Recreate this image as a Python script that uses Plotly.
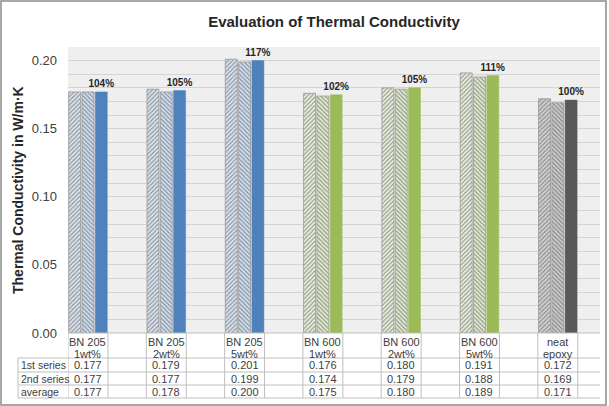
import plotly.graph_objects as go

# ---- data ----
cat_line1 = ["BN 205", "BN 205", "BN 205", "BN 600", "BN 600", "BN 600", "neat"]
cat_line2 = ["1wt%", "2wt%", "5wt%", "1wt%", "2wt%", "5wt%", "epoxy"]
series1 = [0.177, 0.179, 0.201, 0.176, 0.180, 0.191, 0.172]
series2 = [0.177, 0.177, 0.199, 0.174, 0.179, 0.188, 0.169]
average = [0.177, 0.178, 0.200, 0.175, 0.180, 0.189, 0.171]
percent = ["104%", "105%", "117%", "102%", "105%", "111%", "100%"]
row_names = ["1st series", "2nd series", "average"]

# ---- styles ----
solid = ["#4f81bd"] * 3 + ["#9bbb59"] * 3 + ["#595959"]
light1 = ["#dce6f2"] * 3 + ["#ebf1de"] * 3 + ["#d4d4d4"]
light2 = ["#d0e0f3"] * 3 + ["#e3ecd0"] * 3 + ["#cccccc"]
hatch = ["#9db8dc"] * 3 + ["#bfd196"] * 3 + ["#8a8a8a"]

W, H = 609, 406
L, R, T, B = 68, 9, 47, 73
PH = H - T - B
PW = W - L - R
FONT = "Arial, 'Liberation Sans', sans-serif"

def py(p):  # pixel y -> paper y
    return (H - B - p) / PH

def px(p):  # pixel x -> paper x
    return (p - L) / PW

x = list(range(len(series1)))

fig = go.Figure()
fig.add_trace(go.Bar(
    x=x, y=series1, name="1st series",
    marker=dict(color=light1, line=dict(color="#999999", width=0.8),
                pattern=dict(shape="/", fgcolor=hatch, bgcolor=light1,
                             fillmode="overlay", size=3, solidity=0.4)),
))
fig.add_trace(go.Bar(
    x=x, y=series2, name="2nd series",
    marker=dict(color=light2, line=dict(color="#999999", width=0.8),
                pattern=dict(shape="\\", fgcolor=hatch, bgcolor=light2,
                             fillmode="overlay", size=3, solidity=0.4)),
))
fig.add_trace(go.Bar(
    x=x, y=average, name="average",
    marker=dict(color=solid, line=dict(color=solid, width=0.5)),
    text=percent, textposition="outside", cliponaxis=False, constraintext="none",
    textfont=dict(family=FONT, size=10, color="#262626", weight="bold"),
))

half = 0.255
fig.update_layout(
    width=W, height=H,
    margin=dict(l=L, r=R, t=T, b=B),
    paper_bgcolor="white", plot_bgcolor="#efefef",
    barmode="group", bargap=0.49, bargroupgap=0.1,
    showlegend=False,
    font=dict(family=FONT, color="#404040"),
    title=dict(text="<b>Evaluation of Thermal Conductivity</b>", x=0.5, xref="paper",
               xanchor="center", y=1 - 22 / H, yanchor="middle",
               font=dict(family=FONT, size=15, color="#262626")),
    xaxis=dict(type="linear", range=[-half, (600 - 88) / 78.3], showticklabels=False,
               showgrid=False, zeroline=False, ticks="", fixedrange=True),
    yaxis=dict(range=[0, 0.21], dtick=0.05, tickformat=".2f", showgrid=True,
               gridcolor="#d4d4d4", gridwidth=1, zeroline=False,
               minor=dict(dtick=0.01, showgrid=True, gridcolor="#d4d4d4", gridwidth=1),
               tickfont=dict(family=FONT, size=13, color="#404040"),
               ticks="", ticklabelstandoff=10),
)

shapes = []
annotations = []
LINE = "#bfbfbf"
# axis bottom line / header top
shapes.append(dict(type="line", xref="paper", yref="paper", x0=0, x1=1, y0=0, y1=0,
                   line=dict(color=LINE, width=1)))
# horizontal table lines
for p in [358, 372, 385, 398]:
    shapes.append(dict(type="line", xref="paper", yref="paper", x0=px(18), x1=1,
                       y0=py(p), y1=py(p), line=dict(color=LINE, width=1)))
# left label column line
shapes.append(dict(type="line", xref="paper", yref="paper", x0=px(18), x1=px(18),
                   y0=py(358), y1=py(398), line=dict(color=LINE, width=1)))
# column vertical lines
for i in x:
    for xx in (i - half, i + half):
        shapes.append(dict(type="line", xref="x", yref="paper", x0=xx, x1=xx,
                           y0=py(333), y1=py(398), line=dict(color=LINE, width=1)))
# header text
for i in x:
    annotations.append(dict(x=i, xref="x", y=py(342), yref="paper", text=cat_line1[i],
                            showarrow=False, font=dict(family=FONT, size=11, color="#404040"),
                            xanchor="center", yanchor="middle"))
    annotations.append(dict(x=i, xref="x", y=py(354), yref="paper", text=cat_line2[i],
                            showarrow=False, font=dict(family=FONT, size=11, color="#404040"),
                            xanchor="center", yanchor="middle"))
# rows
rows = [series1, series2, average]
row_y = [365, 378.5, 391.5]
for r, vals in enumerate(rows):
    annotations.append(dict(x=px(19), xref="paper", y=py(row_y[r]), yref="paper",
                            text=row_names[r], showarrow=False, xanchor="left", yanchor="middle",
                            font=dict(family=FONT, size=10.5, color="#404040")))
    for i, v in enumerate(vals):
        annotations.append(dict(x=i, xref="x", y=py(row_y[r]), yref="paper",
                                text=f"{v:.3f}", showarrow=False, xanchor="center",
                                yanchor="middle",
                                font=dict(family=FONT, size=11, color="#404040")))
# y axis title
annotations.append(dict(x=px(18), xref="paper", y=py(190), yref="paper",
                        text="<b>Thermal Conductivity in W/m·K</b>", textangle=-90,
                        showarrow=False, xanchor="center", yanchor="middle",
                        font=dict(family=FONT, size=14, color="#262626")))
# chart outer border
shapes.append(dict(type="rect", xref="paper", yref="paper", x0=px(1), x1=px(606),
                   y0=py(405), y1=py(1), line=dict(color="#8c8c8c", width=1.5),
                   fillcolor="rgba(0,0,0,0)", layer="below"))

fig.update_layout(shapes=shapes, annotations=annotations)
fig.write_html("out.html")
